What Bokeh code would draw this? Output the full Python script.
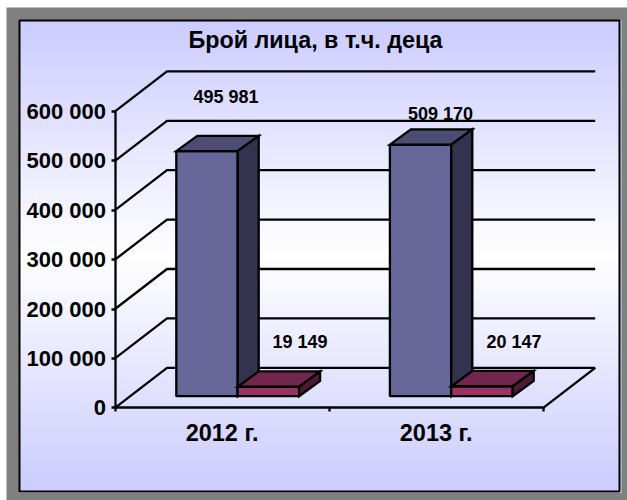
from bokeh.plotting import figure
from bokeh.embed import file_html
from bokeh.resources import INLINE
from bokeh.core.properties import value
from bokeh.models import FixedTicker, Range1d
import numpy as np

categories = ["2012 г.", "2013 г."]
persons = [495981, 509170]
children = [19149, 20147]
y_ticks = [0, 100000, 200000, 300000, 400000, 500000, 600000]
title = "Брой лица, в т.ч. деца"

W, H = 627, 500
PER = 0.000494            # px per unit value
Y0 = 407.3                # pixel row of value 0
AX_L, AX_R = 114.5, 542.7
DX, DY = 52, 40           # wall depth
BX, BY = 21, 15.3         # bar depth
BASE = 395.7
BAR_W = 61.4
BAR_L = [175.8, 389.4]
LABEL_BLUE = [(225.5, 96.5), (440, 113.5)]
LABEL_RED = [(299.5, 341.5), (513.5, 341.5)]
LW = 2.3

def v(py):
    return (Y0 - py) / PER

fmt = lambda n: f"{n:,}".replace(",", " ")
FONT = value("Liberation Sans")

p = figure(width=W, height=H, output_backend="svg", toolbar_location=None,
           x_range=Range1d(0, W), y_range=Range1d(v(H), v(0)),
           min_border=0, outline_line_color=None)
p.grid.visible = False
p.background_fill_color = "white"
p.border_fill_color = "white"

# frame and gradient
p.quad(left=[6], right=[W], bottom=[v(H)], top=[v(7)], fill_color="#808080", line_color=None)
p.quad(left=[19], right=[621], bottom=[v(492.5)], top=[v(20)], fill_color="#d8d8f8", line_color=None)
rows = 470
t = np.abs(np.linspace(-1, 1, rows))[:, None]
img = np.zeros((rows, 1), dtype=np.uint32)
view = img.view(np.uint8).reshape((rows, 1, 4))
view[..., 0] = (255 - 51 * t).astype(np.uint8)
view[..., 1] = (255 - 51 * t).astype(np.uint8)
view[..., 2] = 255
view[..., 3] = 255
p.image_rgba(image=[img], x=[19], y=[v(491)], dw=[600], dh=[v(20) - v(491)])
p.quad(left=[19], right=[619], bottom=[v(491)], top=[v(20)], fill_color=None,
       line_color="black", line_width=2)

# walls
vy = DY / PER
gx, gy = [], []
for tk in y_ticks:
    gx.append([AX_L, AX_L + DX, AX_R + DX])
    gy.append([tk, tk + vy, tk + vy])
gx.append([AX_R, AX_R + DX])
gy.append([0, vy])
p.multi_line(gx, gy, line_color="black", line_width=LW)

# bars
base = v(BASE)
by = BY / PER
def box(xl, val, front, top, side):
    xr = xl + BAR_W
    p.vbar(x=[xl + BAR_W / 2], width=BAR_W, bottom=[base], top=[base + val],
           fill_color=front, line_color="black", line_width=LW)
    p.patch([xl, xl + BX, xr + BX, xr], [base + val, base + val + by, base + val + by, base + val],
            fill_color=top, line_color="black", line_width=LW, line_join="miter")
    p.patch([xr, xr + BX, xr + BX, xr], [base, base + by, base + val + by, base + val],
            fill_color=side, line_color="black", line_width=LW, line_join="miter")

for xl, a, b in zip(BAR_L, persons, children):
    box(xl, a, "#666699", "#4d4d73", "#333350")
    box(xl + BAR_W, b, "#993366", "#73264d", "#4d1a33")

# labels
pos = LABEL_BLUE + LABEL_RED
texts = [fmt(n) for n in persons + children]
p.text(x=[q[0] for q in pos], y=[v(q[1]) for q in pos], text=texts, text_font=FONT,
       text_font_style="bold", text_font_size="18px", text_align="center",
       text_baseline="middle", text_color="black")
p.text(x=[315], y=[v(39.5)], text=[title], text_font=FONT, text_font_style="bold",
       text_font_size="23.3px", text_align="center", text_baseline="middle", text_color="black")

# axes
ya = p.yaxis[0]
ya.fixed_location = AX_L
ya.bounds = (0, 600000)
ya.ticker = FixedTicker(ticks=y_ticks)
ya.major_label_overrides = {k: fmt(k) for k in y_ticks}
ya.major_tick_in = 0
ya.major_tick_out = 4
ya.minor_tick_out = 0
ya.minor_tick_in = 0
ya.axis_line_color = "black"
ya.axis_line_width = LW
ya.major_tick_line_width = LW
ya.major_tick_line_color = "black"
ya.major_label_text_font = "Liberation Sans"
ya.major_label_text_font_style = "bold"
ya.major_label_text_font_size = "22px"
ya.major_label_text_color = "black"
ya.major_label_standoff = 5

centers = [(AX_L + AX_R) / 2 - (AX_R - AX_L) / 4, (AX_L + AX_R) / 2 + (AX_R - AX_L) / 4]
xa = p.xaxis[0]
xa.fixed_location = 0
xa.bounds = (AX_L, AX_R)
xa.ticker = FixedTicker(ticks=centers, minor_ticks=[AX_L, (AX_L + AX_R) / 2, AX_R])
xa.major_label_overrides = dict(zip(centers, categories))
xa.major_tick_in = 0
xa.major_tick_out = 0
xa.minor_tick_in = 0
xa.minor_tick_out = 4
xa.minor_tick_line_width = LW
xa.minor_tick_line_color = "black"
xa.axis_line_color = "black"
xa.axis_line_width = LW
xa.major_label_text_font = "Liberation Sans"
xa.major_label_text_font_style = "bold"
xa.major_label_text_font_size = "23.5px"
xa.major_label_text_color = "black"
xa.major_label_standoff = 8

open("out.html", "w").write(file_html(p, INLINE))
